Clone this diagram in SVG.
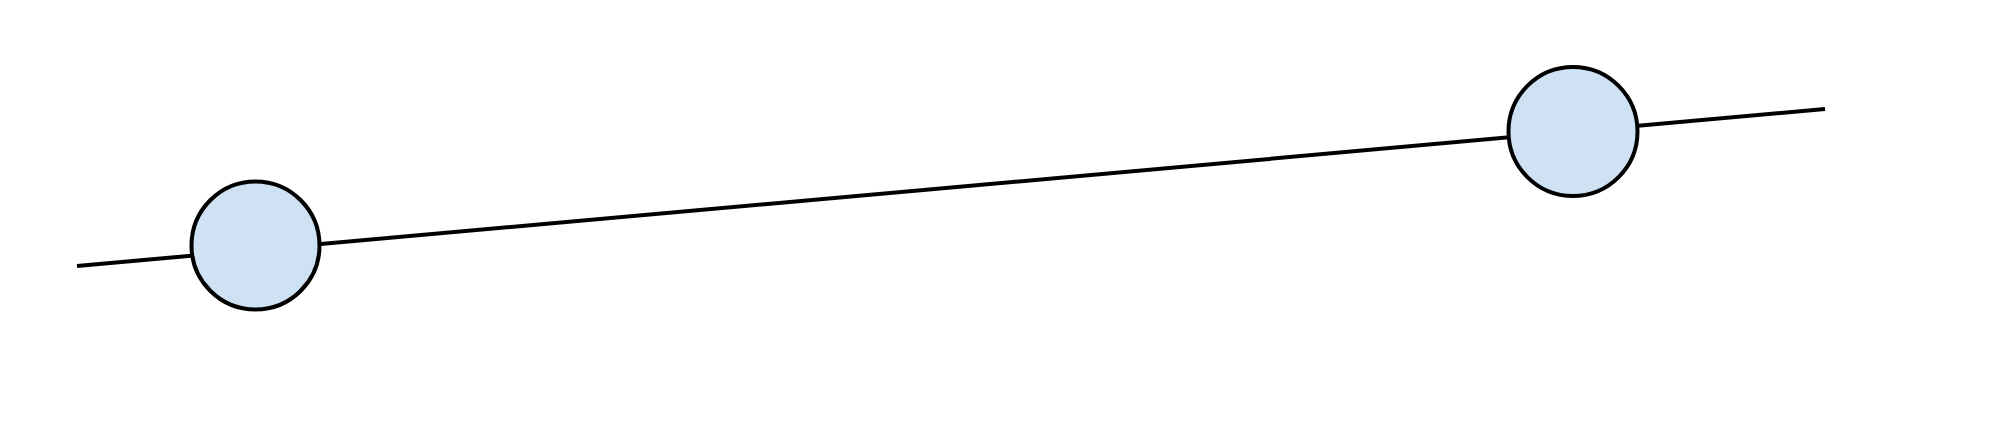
<svg xmlns="http://www.w3.org/2000/svg" width="2000" height="421" viewBox="0 0 2000 421">
<style>
.edge{stroke:#000;stroke-width:4;fill:none}
.node{fill:#cfe2f3;stroke:#000;stroke-width:4}
</style>
<rect x="0" y="0" width="2000" height="421" fill="#fff"/>
<g id="connectors">
<line class="edge" x1="77" y1="266" x2="1825" y2="109"/>
</g>
<g id="node1">
<circle class="node" cx="255.5" cy="245.5" r="64"/>
</g>
<g id="node2">
<circle class="node" cx="1573" cy="131.5" r="64.5"/>
</g>
</svg>
